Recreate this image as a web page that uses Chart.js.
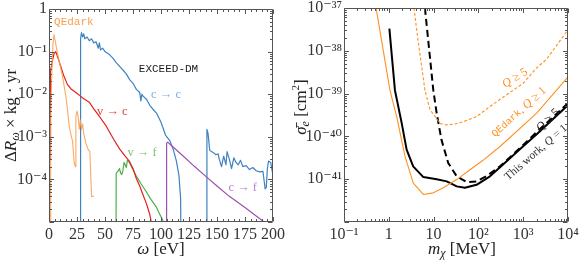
<!DOCTYPE html>
<html><head><meta charset="utf-8">
<script src="https://cdn.jsdelivr.net/npm/chart.js@4/dist/chart.umd.min.js"></script>
<style>
html,body{margin:0;padding:0;background:#fff;}
#wrap{position:relative;width:581px;height:261px;overflow:hidden;background:#fff;}
#lbox{position:absolute;left:0;top:0;width:290px;height:261px;}
#rbox{position:absolute;left:290px;top:0;width:291px;height:261px;}
</style></head><body>
<div id="wrap"><div id="lbox"><canvas id="left"></canvas></div><div id="rbox"><canvas id="right"></canvas></div></div>
<script>
// ---------- LEFT PANEL DATA (omega in eV, Delta R in 1/(kg yr)) ----------
const omegaQEdark = [1, 1.5, 2.5, 3.5, 4.5, 5.5, 7, 9, 12, 15, 16.5, 18, 20, 21, 22.4, 23.5, 24, 25, 26, 27, 28, 29, 30, 31, 33, 35, 36.5, 37.4, 38, 40];
const rateQEdark  = [1e-6, 3e-3, 0.03, 0.15, 0.25, 0.18, 0.11, 0.06, 0.027, 0.009, 0.0045, 0.0018, 0.001, 0.0008, 0.00026, 0.0002, 0.003, 0.004, 0.003, 0.0015, 0.0025, 0.0015, 0.002, 0.0012, 0.0007, 0.0005, 0.00045, 0.0001, 0.00004, 0.00004];

const omegaVC = [1, 1.3, 3, 4.5, 6, 7, 8.5, 10.5, 13, 16.4, 20, 24, 27, 31, 36, 40, 45, 51, 54, 58, 63, 68, 72, 75, 78, 81, 84, 87, 90, 91, 92];
const rateVC  = [3e-4, 0.035, 0.06, 0.09, 0.1, 0.085, 0.065, 0.045, 0.028, 0.017, 0.013, 0.011, 0.0095, 0.0078, 0.0065, 0.0045, 0.003, 0.0018, 0.0013, 0.00085, 0.00052, 0.00035, 0.00026, 0.00018, 0.000105, 0.00007, 0.000043, 0.000027, 0.000015, 0.000011, 1e-6];

const omegaVF = [59.8, 60, 62, 63, 64, 65, 66, 67, 68, 69, 70, 71, 74, 77.6, 82, 86.7, 91, 95.6, 99, 101.6, 102];
const rateVF  = [1e-6, 1.4e-4, 1.6e-4, 1.8e-4, 1.4e-4, 1.3e-4, 1.6e-4, 2.5e-4, 2.2e-4, 1.9e-4, 2.8e-4, 2.7e-4, 1.9e-4, 1.25e-4, 8e-5, 5.2e-5, 3.4e-5, 2.3e-5, 1.5e-5, 1.1e-5, 1e-6];

const omegaCC1 = [28, 28.2, 29, 30, 31, 32, 34, 36, 38, 40, 42, 44, 45, 46, 48, 50, 54, 57, 60, 63, 66, 69, 72, 75, 78, 81, 82, 83, 84, 87, 90, 92.6, 96, 100, 104, 108, 111, 113.6, 116, 117.5, 118];
const rateCC1  = [1e-6, 0.2, 0.28, 0.22, 0.26, 0.2, 0.22, 0.18, 0.2, 0.16, 0.17, 0.12, 0.16, 0.11, 0.12, 0.1, 0.085, 0.07, 0.055, 0.045, 0.037, 0.03, 0.022, 0.018, 0.013, 0.011, 0.007, 0.01, 0.009, 0.0076, 0.0055, 0.0045, 0.0036, 0.0022, 0.0011, 0.0008, 0.0005, 0.00028, 0.000126, 0.000036, 1e-6];

const omegaCC2 = [140.5, 141, 142, 143.5, 145, 147, 149, 151, 152, 154, 156, 158, 159, 161, 163, 165, 167, 169, 171, 173, 176, 179, 182, 185, 188, 191, 193, 194, 195, 196, 198, 200];
const rateCC2  = [1e-6, 1.5e-3, 1.2e-3, 4.8e-4, 4.5e-4, 4.2e-4, 3.8e-4, 4e-4, 3e-4, 2e-4, 3.5e-4, 2.2e-4, 4.5e-4, 3e-4, 1.8e-4, 3.2e-4, 2.5e-4, 2.2e-4, 2.8e-4, 2e-4, 2.1e-4, 1.7e-4, 1.9e-4, 1.6e-4, 1.5e-4, 1.55e-4, 6e-5, 6.5e-5, 1.8e-4, 2.7e-4, 2.5e-4, 1.2e-4];

const omegaCF = [104.5, 105, 106, 110, 120, 130, 140, 150, 161, 175, 190, 200];
const rateCF  = [1e-6, 7e-4, 7.5e-4, 6e-4, 3.5e-4, 2e-4, 1.18e-4, 7e-5, 4e-5, 2.2e-5, 1.1e-5, 7e-6];

const leftXTicks  = [0, 25, 50, 75, 100, 125, 150, 175, 200];
const leftYTicks  = [1e-5, 1e-4, 1e-3, 1e-2, 1e-1, 1];
const leftYLabels = ['', '10⁻⁴', '10⁻³', '10⁻²', '10⁻¹', '1'];

// ---------- RIGHT PANEL DATA (m_chi in MeV, sigma_e in cm^2) ----------
const massQEdarkQ1  = [0.52, 1.06, 1.5, 2.3, 3.52, 5.9, 9.85, 16.5, 32.8, 65, 129, 304, 2000, 10000];
const sigmaQEdarkQ1 = [1e-37, 1.2e-39, 2.9e-40, 3.4e-41, 8.1e-42, 4.4e-42, 4.8e-42, 6.3e-42, 9.8e-42, 1.66e-41, 2.8e-41, 5.8e-41, 3.5e-40, 2.45e-39];

const massQEdarkQ5  = [3.65, 4.3, 5.0, 5.85, 6.4, 8.3, 11.7, 13.8, 20, 30, 46, 91, 181, 360, 1000, 2000, 3300, 10000];
const sigmaQEdarkQ5 = [1e-37, 2.5e-38, 7.9e-39, 2.45e-39, 1.2e-39, 4.2e-40, 2.6e-40, 2.0e-40, 1.86e-40, 1.95e-40, 2.2e-40, 2.9e-40, 5.0e-40, 8.3e-40, 1.74e-39, 4.0e-39, 6.3e-39, 3.1e-38];

const massThisQ1  = [1.03, 1.37, 1.94, 2.5, 3.5, 5.9, 11.7, 19.6, 32.8, 50, 91, 181, 304, 1000, 2000, 10000];
const sigmaThisQ1 = [3.3e-38, 1.2e-39, 2.04e-40, 4.9e-41, 2.0e-41, 1.12e-41, 1.0e-41, 8.9e-42, 6.8e-42, 6.3e-42, 7.4e-42, 1.17e-41, 1.9e-41, 5.9e-41, 1.12e-40, 5.4e-40];

const massThisQ5  = [6.4, 9.85, 11.7, 15, 21.2, 32.8, 55, 91, 150, 304, 1000, 2000, 10000];
const sigmaThisQ5 = [1e-37, 1.2e-39, 3.5e-40, 8.3e-41, 2.4e-41, 1.17e-41, 8.5e-42, 8.9e-42, 1.17e-41, 2.0e-41, 6.3e-41, 1.26e-40, 6.0e-40];

const rightXTicks  = [0.1, 1, 10, 100, 1000, 10000];
const rightXLabels = ['10⁻¹', '1', '10', '10²', '10³', '10⁴'];
const rightYTicks  = [1e-42, 1e-41, 1e-40, 1e-39, 1e-38, 1e-37];
const rightYLabels = ['', '10⁻⁴¹', '10⁻⁴⁰', '10⁻³⁹', '10⁻³⁸', '10⁻³⁷'];

// ---------- STYLE ----------
const SERIF = '"Liberation Serif", "DejaVu Serif", serif';
const MONO = '"Liberation Mono", "DejaVu Sans Mono", monospace';
const TICK_FONT = {family: SERIF, size: 16};
const TICK_COLOR = '#333';

const pts = (xs, ys) => xs.map((x, i) => ({x: x, y: ys[i]}));

function drawRich(ctx, x, y, segs, rot, align) {
  let total = 0;
  const ws = segs.map(s => { ctx.font = s.font; const w = ctx.measureText(s.t).width; total += w; return w; });
  ctx.save();
  ctx.translate(x, y);
  ctx.rotate(rot || 0);
  ctx.textBaseline = 'middle';
  ctx.textAlign = 'left';
  let cur = align === 'left' ? 0 : (align === 'right' ? -total : -total / 2);
  segs.forEach((s, i) => {
    ctx.font = s.font;
    ctx.fillStyle = s.color || '#222';
    ctx.fillText(s.t, cur, s.dy || 0);
    cur += ws[i];
  });
  ctx.restore();
}

function tickList(scale, linStep, linMajor) {
  const out = [];
  if (scale.type === 'logarithmic') {
    const lo = Math.floor(Math.log10(scale.min)), hi = Math.ceil(Math.log10(scale.max));
    for (let d = lo; d <= hi; d++) {
      for (let k = 1; k <= 9; k++) {
        const v = k * Math.pow(10, d);
        if (v >= scale.min * 0.999 && v <= scale.max * 1.001) out.push({v: v, major: k === 1});
      }
    }
  } else {
    for (let v = scale.min; v <= scale.max + 1e-9; v += linStep) out.push({v: v, major: Math.abs(v % linMajor) < 1e-9});
  }
  return out;
}

const frameTicks = {
  id: 'frameTicks',
  afterDraw(chart, args, opts) {
    const ctx = chart.ctx, a = chart.chartArea;
    const L = Math.round(a.left) + 0.5, R = Math.round(a.right) - 0.5, T = Math.round(a.top) + 0.5, B = Math.round(a.bottom) - 0.5;
    ctx.save();
    ctx.strokeStyle = '#555';
    ctx.lineWidth = 1;
    ctx.beginPath();
    ctx.rect(L, T, R - L, B - T);
    const xs = chart.scales.x, ys = chart.scales.y;
    tickList(xs, opts.xStep, opts.xMajor).forEach(t => {
      const p = Math.round(xs.getPixelForValue(t.v)) + 0.5;
      const len = t.major ? 4.5 : 2.5;
      ctx.moveTo(p, B); ctx.lineTo(p, B - len);
      ctx.moveTo(p, T); ctx.lineTo(p, T + len);
    });
    tickList(ys).forEach(t => {
      const p = Math.round(ys.getPixelForValue(t.v)) + 0.5;
      const len = t.major ? 4.5 : 2.5;
      ctx.moveTo(L, p); ctx.lineTo(L + len, p);
      ctx.moveTo(R, p); ctx.lineTo(R - len, p);
    });
    ctx.stroke();
    ctx.restore();
  }
};

const annotations = {
  id: 'annotations',
  afterDraw(chart, args, opts) {
    const ctx = chart.ctx, a = chart.chartArea;
    const xs = chart.scales.x, ys = chart.scales.y;
    (opts.items || []).forEach(it => {
      drawRich(ctx, xs.getPixelForValue(it.x), ys.getPixelForValue(it.y), it.segs, (it.rot || 0) * Math.PI / 180, it.align);
    });
    (opts.titles || []).forEach(t => {
      const cx = t.axis === 'x' ? (a.left + a.right) / 2 + (t.dx || 0) : a.left + t.off;
      const cy = t.axis === 'x' ? a.bottom + t.off : (a.top + a.bottom) / 2 + (t.dy || 0);
      drawRich(ctx, cx, cy, t.segs, t.axis === 'y' ? -Math.PI / 2 : 0, 'center');
    });
  }
};

function fixX(h) { return s => { s.height = h; s.paddingLeft = 0; s.paddingRight = 0; }; }
function fixY(w) { return s => { s.width = w; s.paddingTop = 0; s.paddingBottom = 0; }; }

const T = (t, size, extra) => Object.assign({t: t, font: `${size}px ${SERIF}`, color: '#222'}, extra || {});
const TI = (t, size, extra) => Object.assign({t: t, font: `italic ${size}px ${SERIF}`, color: '#222'}, extra || {});

function lineDS(xs, ys, color, width, dash) {
  return {data: pts(xs, ys), borderColor: color, borderWidth: width, borderDash: dash || [], pointRadius: 0, tension: 0, fill: false, borderJoinStyle: 'round'};
}

// ---------- LEFT CHART ----------
new Chart(document.getElementById('left'), {
  type: 'line',
  data: {datasets: [
    lineDS(omegaQEdark, rateQEdark, 'rgba(252,160,80,0.9)', 1.1),
    lineDS(omegaVC, rateVC, '#e3201e', 1.2),
    lineDS(omegaVF, rateVF, '#4cae48', 1.2),
    lineDS(omegaCF, rateCF, '#9b51b1', 1.2),
    lineDS(omegaCC1, rateCC1, '#3f82c2', 1.2),
    lineDS(omegaCC2, rateCC2, '#3f82c2', 1.2)
  ]},
  options: {
    responsive: true, maintainAspectRatio: false, animation: false, devicePixelRatio: 1,
    parsing: true,
    layout: {padding: {top: 9, right: 17, left: 0, bottom: 0}},
    plugins: {
      legend: {display: false}, tooltip: {enabled: false},
      frameTicks: {xStep: 5, xMajor: 25},
      annotations: {
        items: [
          {x: 4.5, y: 0.49, align: 'left', segs: [{t: 'QEdark', font: `11px ${MONO}`, color: '#f8a04c'}]},
          {x: 106.7, y: 0.038, segs: [{t: 'EXCEED-DM', font: `11px ${MONO}`, color: '#1a1a1a'}]},
          {x: 104.5, y: 0.0095, segs: [T('c → c', 12.5, {color: '#80b1dd'})]},
          {x: 56.5, y: 0.0039, segs: [T('v → c', 12.5, {color: '#e8433f'})]},
          {x: 83, y: 4.3e-4, segs: [T('v → f', 12.5, {color: '#7cc476'})]},
          {x: 173, y: 6.5e-5, segs: [T('c → f', 12.5, {color: '#b883c7'})]}
        ],
        titles: [
          {axis: 'x', off: 28, segs: [TI('ω', 17), T(' [eV]', 17)]},
          {axis: 'y', off: -37, segs: [T('Δ', 17), TI('R', 17), TI('ω', 12, {dy: 4}), T(' × kg · yr', 17)]}
        ]
      }
    },
    scales: {
      x: {type: 'linear', min: 0, max: 200,
          afterBuildTicks: s => { s.ticks = leftXTicks.map(v => ({value: v})); },
          afterFit: fixX(39),
          grid: {display: false, drawTicks: false}, border: {display: false},
          ticks: {font: TICK_FONT, color: TICK_COLOR, padding: 3, maxRotation: 0, autoSkip: false, callback: v => String(v)}},
      y: {type: 'logarithmic', min: 1e-5, max: 1,
          afterBuildTicks: s => { s.ticks = leftYTicks.map(v => ({value: v})); },
          afterFit: fixY(49),
          grid: {display: false, drawTicks: false}, border: {display: false},
          ticks: {font: TICK_FONT, color: TICK_COLOR, padding: 2, autoSkip: false, callback: (v, i) => leftYLabels[i]}}
    }
  },
  plugins: [frameTicks, annotations]
});

// ---------- RIGHT CHART ----------
const ORANGE = '#ff901f';
new Chart(document.getElementById('right'), {
  type: 'line',
  data: {datasets: [
    lineDS(massQEdarkQ1, sigmaQEdarkQ1, ORANGE, 1.1),
    lineDS(massQEdarkQ5, sigmaQEdarkQ5, ORANGE, 1.1, [3, 2]),
    lineDS(massThisQ1, sigmaThisQ1, '#000', 2),
    lineDS(massThisQ5, sigmaThisQ5, '#000', 2, [7, 4])
  ]},
  options: {
    responsive: true, maintainAspectRatio: false, animation: false, devicePixelRatio: 1,
    layout: {padding: {top: 8, right: 13, left: 0, bottom: 0}},
    plugins: {
      legend: {display: false}, tooltip: {enabled: false},
      frameTicks: {},
      annotations: {
        items: [
          {x: 656, y: 2.3e-39, rot: -32, segs: [TI('Q', 12, {color: ORANGE}), T(' ≥ 5', 12, {color: ORANGE})]},
          {x: 805, y: 3.7e-40, rot: -42, segs: [{t: 'QEdark', font: `10px ${MONO}`, color: ORANGE}, T(', ', 12, {color: ORANGE}), TI('Q', 12, {color: ORANGE}), T(' ≥ 1', 12, {color: ORANGE})]},
          {x: 3580, y: 2.4e-40, rot: -45, segs: [TI('Q', 12), T(' ≥ 5', 12)]},
          {x: 1930, y: 4.2e-41, rot: -41, segs: [T('This work, ', 11.5, {color: '#333'}), TI('Q', 11.5, {color: '#333'}), T(' = 1', 11.5, {color: '#333'})]}
        ],
        titles: [
          {axis: 'x', off: 28, dx: 6, segs: [TI('m', 17), TI('χ', 12, {dy: 4}), T(' [MeV]', 17)]},
          {axis: 'y', off: -42, dy: -8, segs: [TI('σ̄', 17), TI('e', 12, {dy: 4}), T(' [cm', 17), T('2', 11, {dy: -6}), T(']', 17)]}
        ]
      }
    },
    scales: {
      x: {type: 'logarithmic', min: 0.1, max: 10000,
          afterBuildTicks: s => { s.ticks = rightXTicks.map(v => ({value: v})); },
          afterFit: fixX(39),
          grid: {display: false, drawTicks: false}, border: {display: false},
          ticks: {font: TICK_FONT, color: TICK_COLOR, padding: 3, maxRotation: 0, autoSkip: false, callback: (v, i) => rightXLabels[i]}},
      y: {type: 'logarithmic', min: 1e-42, max: 1e-37,
          afterBuildTicks: s => { s.ticks = rightYTicks.map(v => ({value: v})); },
          afterFit: fixY(54),
          grid: {display: false, drawTicks: false}, border: {display: false},
          ticks: {font: TICK_FONT, color: TICK_COLOR, padding: 2, autoSkip: false, callback: (v, i) => rightYLabels[i]}}
    }
  },
  plugins: [frameTicks, annotations]
});
</script>
</body></html>
